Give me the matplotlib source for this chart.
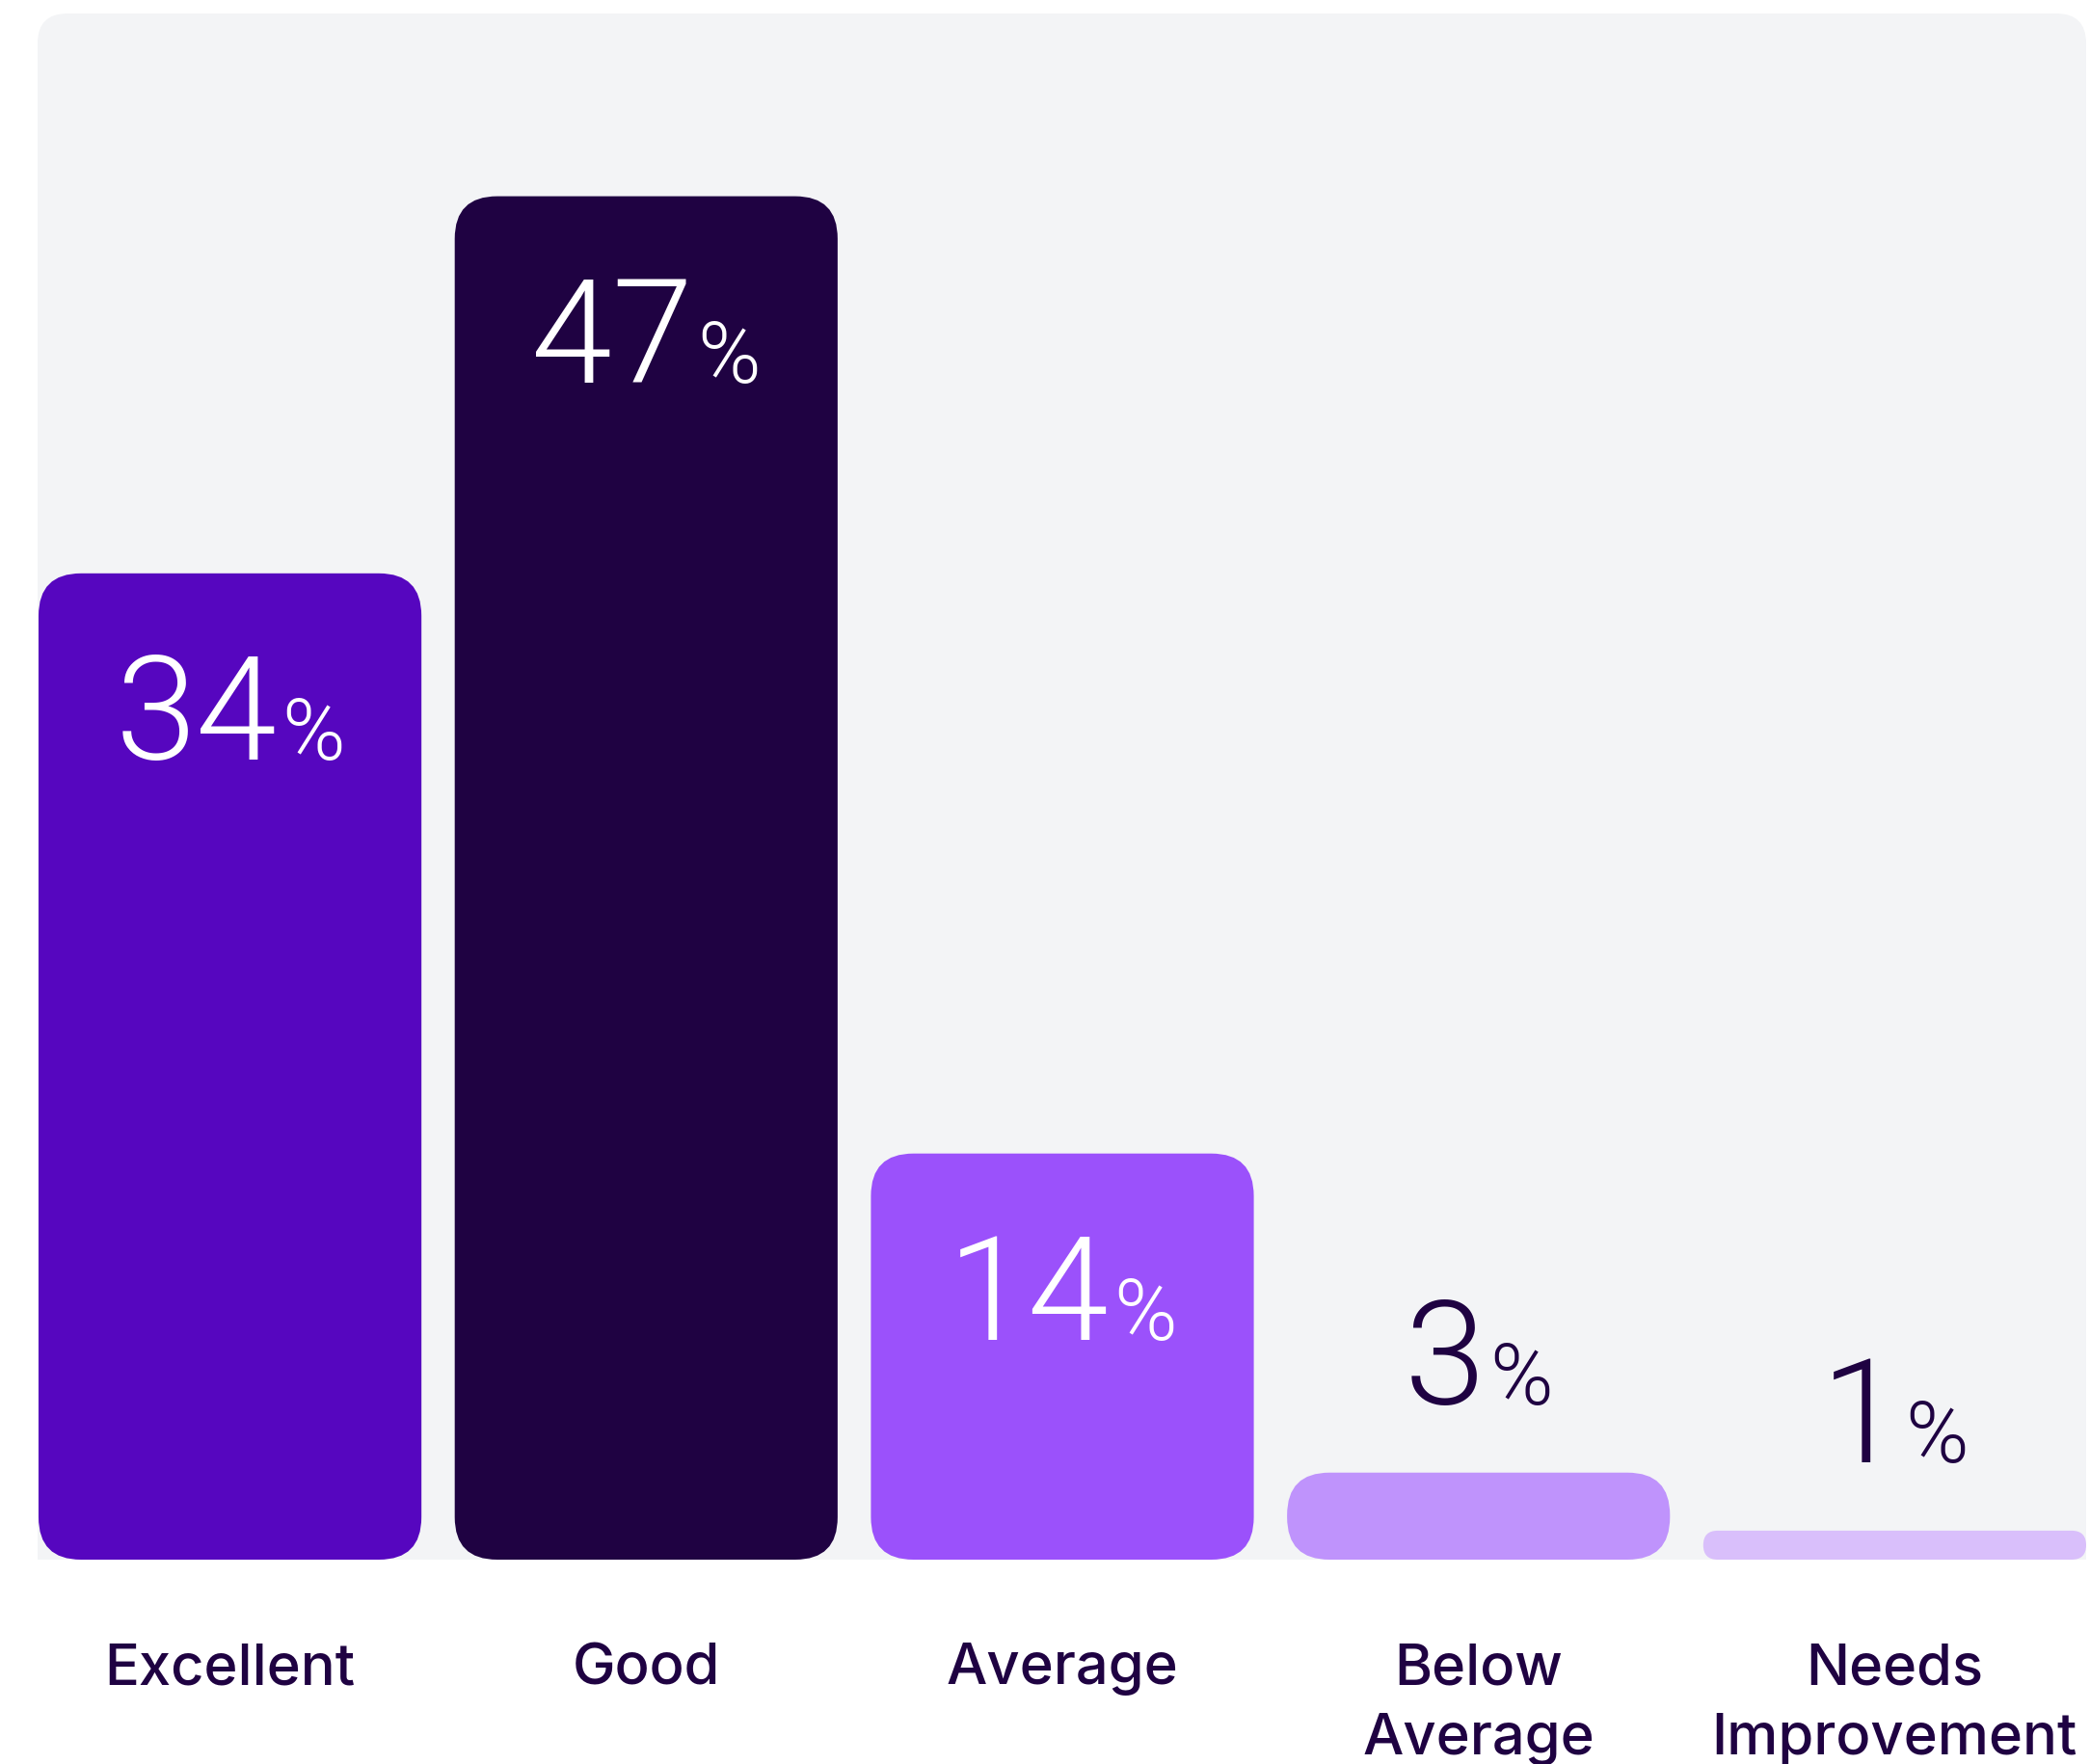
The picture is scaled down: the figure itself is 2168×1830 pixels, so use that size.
import matplotlib
matplotlib.use("Agg")
import matplotlib.pyplot as plt
from matplotlib.patches import FancyBboxPatch
import matplotlib.transforms as mtransforms

# ---- data ----
categories = ["Excellent", "Good", "Average", "Below\nAverage", "Needs\nImprovement"]
values = [34, 47, 14, 3, 1]
bar_colors = ["#5606BF", "#1F0242", "#9B51FB", "#BF93FC", "#D9BFFB"]
value_suffix = "%"

DARK = "#1F0242"
PANEL = "#F3F4F6"
NUM_FONT = ["Roboto", "DejaVu Sans"]
LABEL_FONT = ["Inter", "DejaVu Sans"]

W, H, DPI = 2168, 1830, 100
fig = plt.figure(figsize=(W / DPI, H / DPI), dpi=DPI)
fig.patch.set_facecolor("white")

ax_l, ax_r = 39, 2164
ax_b, ax_t = 212, 1816  # from figure bottom
ax = fig.add_axes([ax_l / W, ax_b / H, (ax_r - ax_l) / W, (ax_t - ax_b) / H])
ax.set_facecolor("none")
xlim = (-0.4623, 4.46)
ylim = (0, 53.3)
ax.set_xlim(*xlim)
ax.set_ylim(*ylim)
ax.axis("off")

ax_w_px = ax_r - ax_l
ax_h_px = ax_t - ax_b
px_per_x = ax_w_px / (xlim[1] - xlim[0])
px_per_y = ax_h_px / (ylim[1] - ylim[0])

# background panel: rounded top corners, flat bottom (clipped by axes)
panel = FancyBboxPatch((0, -0.05), 1, 1.05,
                       boxstyle=f"round,pad=0,rounding_size={31 / ax_w_px}",
                       mutation_aspect=ax_w_px / ax_h_px,
                       transform=ax.transAxes, facecolor=PANEL, edgecolor="none",
                       zorder=0, clip_on=True)
ax.add_patch(panel)

x = list(range(len(categories)))
rects = ax.bar(x, values, width=0.92, color=bar_colors, alpha=0)

aspect = px_per_x / px_per_y
for rect, col in zip(rects, bar_colors):
    x0, y0 = rect.get_x(), rect.get_y()
    w, h = rect.get_width(), rect.get_height()
    r = min(44 / px_per_x, w / 2, (h / aspect) / 2)
    p = FancyBboxPatch((x0, y0), w, h,
                       boxstyle=f"round,pad=0,rounding_size={r}",
                       mutation_aspect=aspect, facecolor=col, edgecolor="none",
                       zorder=2)
    ax.add_patch(p)
    rect.remove()

renderer = fig.canvas.get_renderer()
num_fs, pct_fs = 109, 64
for xi, v in zip(x, values):
    inside = v >= 10
    color = "white" if inside else DARK
    dy = -193 if inside else 71
    tn = ax.text(xi, v, f"{v}", fontsize=num_fs, family=NUM_FONT, fontweight=300,
                 color=color, ha="left", va="baseline", zorder=3)
    tp = ax.text(xi, v, value_suffix, fontsize=pct_fs, family=NUM_FONT, fontweight=300,
                 color=color, ha="left", va="baseline", zorder=3)
    wn = tn.get_window_extent(renderer).width
    wp = tp.get_window_extent(renderer).width
    gap = 4
    total = wn + gap + wp
    tn.set_transform(mtransforms.offset_copy(ax.transData, fig=fig, x=-total / 2, y=dy, units="dots"))
    tp.set_transform(mtransforms.offset_copy(ax.transData, fig=fig, x=-total / 2 + wn + gap, y=dy, units="dots"))

blend = mtransforms.blended_transform_factory(ax.transData, ax.transAxes)
line_step = 73
for xi, cat in zip(x, categories):
    for k, line in enumerate(cat.split("\n")):
        tr = mtransforms.offset_copy(blend, fig=fig, x=0, y=-129 - k * line_step, units="dots")
        ax.text(xi, 0, line, transform=tr, ha="center", va="baseline",
                fontsize=43, family=LABEL_FONT, fontweight=500, color=DARK,
                clip_on=False)

fig.savefig("out.png", dpi=DPI, facecolor="white")
